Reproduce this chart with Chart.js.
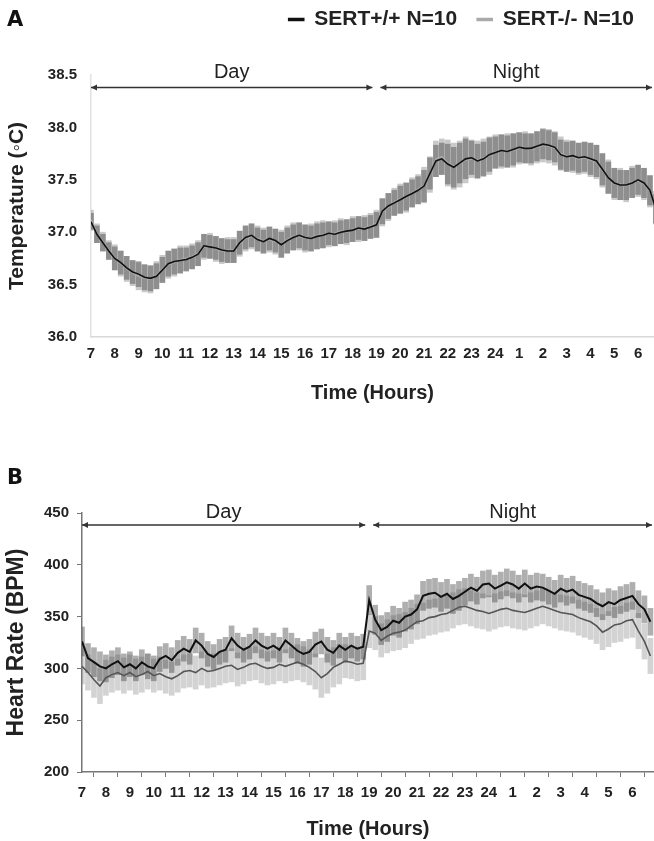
<!DOCTYPE html>
<html>
<head>
<meta charset="utf-8">
<script src="https://cdn.jsdelivr.net/npm/chart.js@4.4.1/dist/chart.umd.min.js"></script>
<style>
  body { margin: 0; background: #fff; }
  #wrap { position: relative; width: 654px; height: 841px; overflow: hidden; }
  canvas { position: absolute; left: 0; }
  .painel { position: absolute; left: 7px; font: bold 21px "DejaVu Sans", sans-serif; color: #111; z-index: 2; }
</style>
</head>
<body>
<div id="wrap">
  <canvas id="grafico-temp" style="top:0" width="654" height="415"></canvas>
  <canvas id="grafico-fc" style="top:425px" width="654" height="416"></canvas>
  <div class="painel" style="top:7px">A</div>
  <div class="painel" style="top:465px">B</div>
</div>
<script>
// tempo em horas desde as 7h, um ponto a cada 15 min
const horas = Array.from({ length: 96 }, (_, i) => i * 0.25);
const rotulosHora = ['7', '8', '9', '10', '11', '12', '13', '14', '15', '16', '17', '18',
  '19', '20', '21', '22', '23', '24', '1', '2', '3', '4', '5', '6'];
const series = ['SERT+/+ N=10', 'SERT-/- N=10'];
const periodos = ['Day', 'Night'];
const limitesPeriodo = [0, 12, 24];

// Temperatura (°C)
const tempWT = [37.10, 36.98, 36.90, 36.82, 36.75, 36.71, 36.66, 36.62, 36.60, 36.57,
  36.56, 36.58, 36.64, 36.70, 36.72, 36.73, 36.74, 36.76, 36.79, 36.87,
  36.86, 36.85, 36.83, 36.82, 36.82, 36.90, 36.95, 36.97, 36.93, 36.91,
  36.94, 36.92, 36.88, 36.92, 36.95, 36.97, 36.95, 36.94, 36.96, 36.97,
  36.99, 36.98, 37.00, 37.01, 37.02, 37.04, 37.03, 37.05, 37.07, 37.20,
  37.25, 37.28, 37.31, 37.34, 37.37, 37.40, 37.44, 37.56, 37.68, 37.70,
  37.65, 37.62, 37.66, 37.70, 37.71, 37.68, 37.70, 37.74, 37.76, 37.78,
  37.77, 37.79, 37.81, 37.80, 37.80, 37.82, 37.84, 37.83, 37.81, 37.74,
  37.72, 37.73, 37.71, 37.72, 37.70, 37.68, 37.60, 37.52, 37.47, 37.45,
  37.45, 37.47, 37.50, 37.47, 37.40, 37.22];
const tempKO = [37.12, 36.99, 36.91, 36.83, 36.76, 36.70, 36.65, 36.61, 36.58, 36.56,
  36.55, 36.59, 36.65, 36.69, 36.71, 36.74, 36.75, 36.77, 36.80, 36.86,
  36.87, 36.84, 36.82, 36.83, 36.83, 36.89, 36.94, 36.96, 36.94, 36.92,
  36.93, 36.91, 36.89, 36.93, 36.96, 36.96, 36.94, 36.95, 36.97, 36.98,
  36.98, 36.99, 37.01, 37.00, 37.03, 37.03, 37.04, 37.06, 37.08, 37.19,
  37.24, 37.29, 37.32, 37.33, 37.38, 37.41, 37.45, 37.55, 37.70, 37.72,
  37.66, 37.63, 37.65, 37.69, 37.70, 37.69, 37.71, 37.73, 37.77, 37.77,
  37.78, 37.78, 37.80, 37.81, 37.79, 37.81, 37.83, 37.82, 37.80, 37.75,
  37.73, 37.72, 37.70, 37.71, 37.69, 37.67, 37.59, 37.53, 37.46, 37.46,
  37.44, 37.48, 37.49, 37.46, 37.39, 37.24];
// erro padrão, um valor por hora
const semTempWT = [0.08, 0.11, 0.12, 0.12, 0.11, 0.11, 0.11, 0.11, 0.12, 0.12, 0.11, 0.11,
  0.12, 0.13, 0.15, 0.19, 0.16, 0.15, 0.14, 0.14, 0.14, 0.15, 0.14, 0.14];
const semTempKO = [0.09, 0.12, 0.13, 0.13, 0.12, 0.12, 0.12, 0.12, 0.13, 0.13, 0.12, 0.12,
  0.13, 0.14, 0.17, 0.22, 0.18, 0.16, 0.15, 0.16, 0.15, 0.16, 0.15, 0.15];

// Frequência cardíaca (BPM)
const fcWT = [326, 310, 306, 302, 300, 304, 307, 301, 304, 300,
  306, 302, 300, 309, 312, 308, 315, 319, 316, 327,
  322, 314, 311, 316, 318, 329, 322, 318, 321, 327,
  322, 319, 322, 318, 327, 322, 317, 314, 316, 323,
  326, 318, 315, 322, 318, 322, 319, 321, 366, 347,
  337, 340, 346, 344, 350, 352, 357, 370, 372, 373,
  369, 372, 367, 370, 374, 378, 375, 381, 382, 377,
  380, 383, 381, 377, 382, 377, 379, 378, 375, 372,
  377, 374, 376, 371, 369, 367, 363, 360, 364, 362,
  366, 368, 370, 362, 357, 345];
const fcKO = [302, 296, 289, 283, 291, 294, 296, 293, 296, 292,
  294, 297, 293, 295, 292, 290, 293, 297, 298, 296,
  300, 297, 298, 300, 302, 303, 299, 301, 304, 305,
  302, 300, 301, 304, 302, 304, 306, 304, 301, 297,
  291, 295, 301, 304, 307, 306, 304, 305, 336, 334,
  327, 331, 334, 335, 337, 341, 345, 346, 349, 350,
  352, 353, 356, 359, 360, 358, 356, 355, 353, 355,
  357, 358, 356, 355, 354, 356, 358, 360, 358, 356,
  354, 353, 352, 349, 347, 345, 341, 335, 338, 342,
  343, 346, 347, 336, 326, 312];
const semFcWT = [14, 13, 12, 12, 12, 12, 12, 12, 12, 12, 12, 12,
  14, 14, 14, 14, 13, 13, 13, 13, 13, 13, 13, 13];
const semFcKO = [17, 17, 17, 16, 16, 16, 16, 16, 16, 17, 19, 16,
  16, 17, 17, 17, 17, 17, 17, 17, 17, 17, 17, 17];

const fonte = '"Liberation Sans", Arial, sans-serif';

function pontos(valores) {
  return horas.map((h, i) => ({ x: h, y: valores[i] }));
}
function barrasErro(valores, sem) {
  return horas.map((h, i) => {
    const e = sem[Math.min(Math.floor(h), sem.length - 1)];
    return { x: h, y: [valores[i] - e, valores[i] + e] };
  });
}

// setas Day / Night no topo do gráfico
const pluginPeriodos = {
  id: 'periodos',
  afterDatasetsDraw(chart, args, opts) {
    const { ctx, chartArea, scales: { x, y } } = chart;
    const yl = y.getPixelForValue(opts.nivel);
    ctx.save();
    ctx.strokeStyle = '#333';
    ctx.lineWidth = 1.5;
    periodos.forEach((nome, i) => {
      let x0 = x.getPixelForValue(limitesPeriodo[i]);
      let x1 = Math.min(x.getPixelForValue(limitesPeriodo[i + 1]), chartArea.right - 2);
      if (i > 0) x0 += 4;
      if (i < periodos.length - 1) x1 -= 4;
      ctx.fillStyle = '#333';
      ctx.beginPath();
      ctx.moveTo(x0, yl);
      ctx.lineTo(x1, yl);
      ctx.stroke();
      ctx.beginPath();
      ctx.moveTo(x0, yl); ctx.lineTo(x0 + 6, yl - 3); ctx.lineTo(x0 + 6, yl + 3); ctx.closePath();
      ctx.moveTo(x1, yl); ctx.lineTo(x1 - 6, yl - 3); ctx.lineTo(x1 - 6, yl + 3); ctx.closePath();
      ctx.fill();
      ctx.font = '20px ' + fonte;
      ctx.fillStyle = '#222';
      ctx.textAlign = 'center';
      ctx.textBaseline = 'middle';
      ctx.fillText(nome, (x0 + x1) / 2, yl - opts.folga);
    });
    ctx.restore();
  }
};

function eixoX(max, altura, opc) {
  return {
    type: 'linear', min: 0, max: max, offset: false,
    // um tick por hora, de 7h até 6h
    afterBuildTicks: s => { s.ticks = rotulosHora.map((r, i) => ({ value: i })); },
    afterFit: s => { s.height = altura; },
    ticks: {
      stepSize: 1, autoSkip: false, maxRotation: 0, padding: opc.padding, color: '#222',
      font: { family: fonte, size: 15, weight: 'bold' },
      callback: v => rotulosHora[v]
    },
    grid: opc.grid,
    border: opc.border,
    title: {
      display: true, text: 'Time (Hours)', color: '#222',
      font: { family: fonte, size: 20, weight: 'bold' },
      padding: { top: 0, bottom: opc.tituloPad }
    }
  };
}

// Painel A - temperatura
const ctxA = document.getElementById('grafico-temp').getContext('2d');
new Chart(ctxA, {
  type: 'line',
  data: {
    datasets: [
      { label: series[0], data: pontos(tempWT), borderColor: '#111', backgroundColor: '#111',
        borderWidth: 1.6, pointRadius: 0, order: 0 },
      { label: series[1], data: pontos(tempKO), borderColor: '#aaa', backgroundColor: '#aaa',
        borderWidth: 1.6, pointRadius: 0, order: 1 },
      { type: 'bar', label: 'sem1', data: barrasErro(tempWT, semTempWT),
        backgroundColor: 'rgba(70,70,70,0.45)', barThickness: 5, grouped: false, order: 2 },
      { type: 'bar', label: 'sem2', data: barrasErro(tempKO, semTempKO),
        backgroundColor: 'rgba(100,100,100,0.35)', barThickness: 5, grouped: false, order: 3 }
    ]
  },
  options: {
    responsive: false,
    animation: false,
    layout: { padding: { top: -11, left: 0, right: 0, bottom: 0 } },
    plugins: {
      legend: {
        position: 'top', align: 'end',
        labels: {
          boxWidth: 15, boxHeight: 2, padding: 20, color: '#222',
          font: { family: fonte, size: 21, weight: 'bold' },
          filter: item => item.datasetIndex < 2
        }
      },
      // espaço entre a legenda e a área do gráfico
      title: { display: true, text: '', weight: 500, font: { size: 10 }, padding: { top: 0, bottom: 23 } },
      tooltip: { enabled: false },
      periodos: { nivel: 38.38, folga: 15 }
    },
    scales: {
      x: eixoX(23.67, 78, {
        padding: 8, tituloPad: 10,
        grid: { display: false, drawTicks: false },
        border: { display: true, color: '#d8d8d8', width: 1.5 }
      }),
      y: {
        min: 36, max: 38.5,
        afterFit: s => { s.width = 91; },
        ticks: {
          stepSize: 0.5, padding: 14, color: '#222',
          font: { family: fonte, size: 15, weight: 'bold' },
          callback: v => v.toFixed(1)
        },
        grid: { display: false, drawTicks: false },
        border: { display: true, color: '#e2e2e2', width: 1.5 },
        title: {
          display: true, text: 'Temperature (\u25E6C)', color: '#222',
          font: { family: fonte, size: 21, weight: 'bold' },
          padding: { top: 5, bottom: 0 }
        }
      }
    }
  },
  plugins: [pluginPeriodos]
});

// Painel B - frequência cardíaca
const ctxB = document.getElementById('grafico-fc').getContext('2d');
new Chart(ctxB, {
  type: 'line',
  data: {
    datasets: [
      { label: series[0], data: pontos(fcWT), borderColor: '#111', backgroundColor: '#111',
        borderWidth: 2, pointRadius: 0, order: 0 },
      { label: series[1], data: pontos(fcKO), borderColor: '#555', backgroundColor: '#555',
        borderWidth: 1.6, pointRadius: 0, order: 1 },
      { type: 'bar', label: 'sem1', data: barrasErro(fcWT, semFcWT),
        backgroundColor: 'rgba(55,55,55,0.4)', barThickness: 5, grouped: false, order: 2 },
      { type: 'bar', label: 'sem2', data: barrasErro(fcKO, semFcKO),
        backgroundColor: 'rgba(120,120,120,0.33)', barThickness: 5, grouped: false, order: 3 }
    ]
  },
  options: {
    responsive: false,
    animation: false,
    layout: { padding: { top: 88 } },
    plugins: {
      legend: { display: false },
      tooltip: { enabled: false },
      periodos: { nivel: 438.4, folga: 13 }
    },
    scales: {
      x: eixoX(23.9, 69, {
        padding: 7, tituloPad: 0,
        grid: { display: true, drawOnChartArea: false, drawTicks: true, tickLength: 5, color: '#777' },
        border: { display: true, color: '#777', width: 1.5 }
      }),
      y: {
        min: 200, max: 450,
        afterFit: s => { s.width = 82; },
        ticks: {
          stepSize: 50, padding: 8, color: '#222',
          font: { family: fonte, size: 15, weight: 'bold' }
        },
        grid: { display: true, drawOnChartArea: false, drawTicks: true, tickLength: 5, color: '#777' },
        border: { display: true, color: '#777', width: 1.5 },
        title: {
          display: true, text: 'Heart Rate (BPM)', color: '#222',
          font: { family: fonte, size: 23, weight: 'bold' },
          padding: { top: 3, bottom: 0 }
        }
      }
    }
  },
  plugins: [pluginPeriodos]
});
</script>
</body>
</html>
